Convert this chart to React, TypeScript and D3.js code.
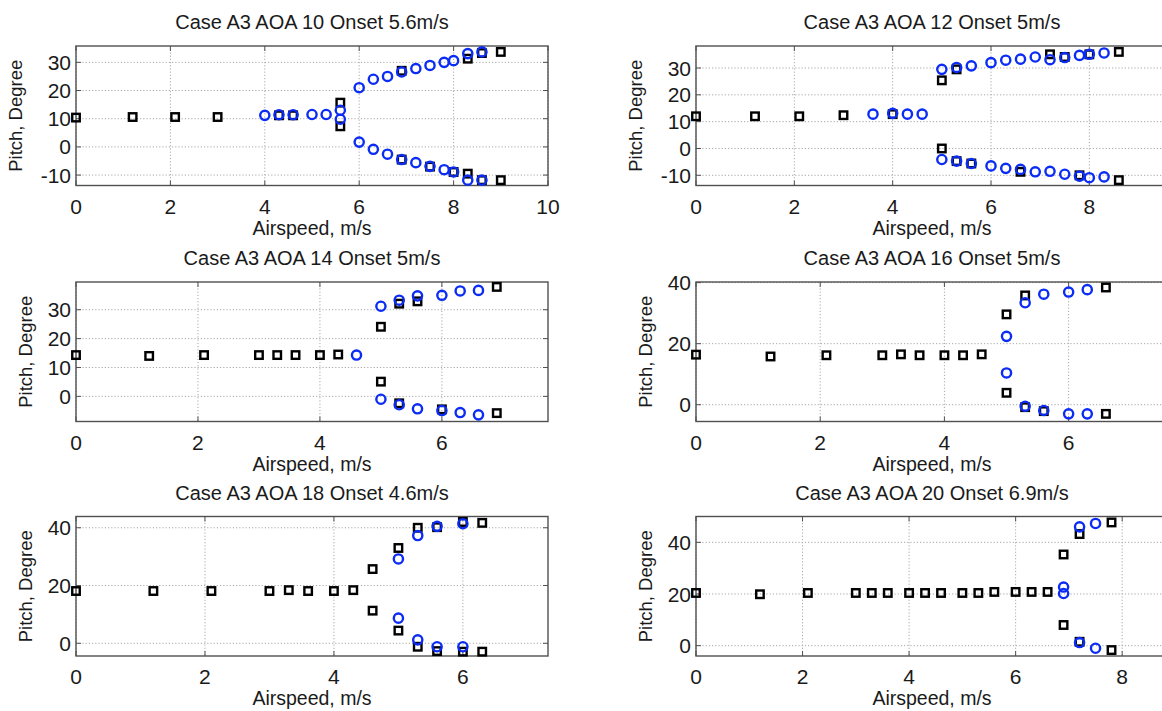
import React from "react";
import * as d3 from "d3";

// Pitch measurements per angle-of-attack case: [airspeed m/s, pitch deg]
const aoa10Squares: [number, number][] = [
  [0, 10.4], [1.2, 10.6], [2.1, 10.6], [3.0, 10.6], [4.3, 11.2], [4.6, 11.2],
  [5.6, 15.7], [5.6, 7.3], [6.9, 27.0], [8.3, 31.3], [8.6, 33.3], [9.0, 33.7],
  [6.9, -4.5], [7.5, -7.0], [8.0, -8.9], [8.3, -9.5], [8.6, -11.8], [9.0, -11.8],
];
const aoa10Circles: [number, number][] = [
  [4.0, 11.2], [4.3, 11.4], [4.6, 11.4], [5.0, 11.5], [5.3, 11.5], [5.6, 13.0], [5.6, 9.8],
  [6.0, 21.0], [6.3, 24.0], [6.6, 25.0], [6.9, 26.6], [7.2, 27.8], [7.5, 28.9], [7.8, 30.0],
  [8.0, 30.6], [8.3, 33.1], [8.6, 33.7],
  [6.0, 1.7], [6.3, -0.85], [6.6, -2.6], [6.9, -4.5], [7.2, -5.6], [7.5, -6.9], [7.8, -8.1],
  [8.0, -8.9], [8.3, -11.8], [8.6, -11.8],
];

const aoa12Squares: [number, number][] = [
  [0, 12.0], [1.2, 12.0], [2.1, 12.0], [3.0, 12.4], [4.0, 12.8],
  [5.0, 25.4], [5.0, 0.0], [5.3, 29.5], [7.2, 35.1], [7.5, 34.1], [8.0, 35.1], [8.6, 36.0],
  [5.3, -4.7], [5.6, -5.6], [6.6, -8.7], [7.8, -10.0], [8.6, -11.8],
];
const aoa12Circles: [number, number][] = [
  [3.6, 12.8], [4.0, 13.1], [4.3, 12.8], [4.6, 12.8],
  [5.0, 29.5], [5.3, 30.2], [5.6, 30.8], [6.0, 32.0], [6.3, 32.9], [6.6, 33.3], [6.9, 34.1],
  [7.2, 33.1], [7.5, 33.9], [7.8, 34.7], [8.0, 35.1], [8.3, 35.6],
  [5.0, -4.1], [5.3, -4.7], [5.6, -5.6], [6.0, -6.5], [6.3, -7.4], [6.6, -7.8], [6.9, -8.7],
  [7.2, -8.5], [7.5, -9.6], [7.8, -10.3], [8.0, -10.9], [8.3, -10.6],
];

const aoa14Squares: [number, number][] = [
  [0, 14.3], [1.2, 14.0], [2.1, 14.3], [3.0, 14.3], [3.3, 14.3], [3.6, 14.3], [4.0, 14.3],
  [4.3, 14.5], [5.0, 24.1], [5.0, 5.1], [5.3, 32.1], [5.6, 32.9], [6.9, 37.9],
  [5.3, -2.4], [6.0, -4.5], [6.9, -5.8],
];
const aoa14Circles: [number, number][] = [
  [4.6, 14.3], [5.0, 31.2], [5.3, 33.3], [5.6, 34.8], [6.0, 35.0], [6.3, 36.5], [6.6, 36.7],
  [5.0, -1.0], [5.3, -2.9], [5.6, -4.3], [6.0, -4.9], [6.3, -5.6], [6.6, -6.4],
];

const aoa16Squares: [number, number][] = [
  [0, 16.4], [1.2, 15.8], [2.1, 16.2], [3.0, 16.2], [3.3, 16.5], [3.6, 16.2], [4.0, 16.2],
  [4.3, 16.2], [4.6, 16.5], [5.0, 29.6], [5.0, 3.9], [5.3, 35.8], [6.6, 38.4],
  [5.3, -0.8], [5.6, -2.1], [6.6, -3.0],
];
const aoa16Circles: [number, number][] = [
  [5.0, 22.4], [5.0, 10.4], [5.3, 33.4], [5.6, 36.2], [6.0, 36.9], [6.3, 37.7],
  [5.3, -0.5], [5.6, -1.9], [6.0, -3.0], [6.3, -3.0],
];

const aoa18Squares: [number, number][] = [
  [0, 18.1], [1.2, 18.1], [2.1, 18.1], [3.0, 18.1], [3.3, 18.4], [3.6, 18.1], [4.0, 18.1],
  [4.3, 18.4], [4.6, 25.7], [4.6, 11.3], [5.0, 33.0], [5.0, 4.4], [5.3, 40.0], [5.3, -1.2],
  [5.6, 40.2], [5.6, -2.7], [6.0, 42.0], [6.0, -2.9], [6.3, 41.7], [6.3, -2.9],
];
const aoa18Circles: [number, number][] = [
  [5.0, 29.2], [5.0, 8.7], [5.3, 37.3], [5.3, 1.2], [5.6, 40.5], [5.6, -1.2], [6.0, 41.4], [6.0, -1.2],
];

const aoa20Squares: [number, number][] = [
  [0, 20.4], [1.2, 19.9], [2.1, 20.4], [3.0, 20.4], [3.3, 20.4], [3.6, 20.4], [4.0, 20.4],
  [4.3, 20.4], [4.6, 20.4], [5.0, 20.4], [5.3, 20.4], [5.6, 20.8], [6.0, 20.8], [6.3, 20.8],
  [6.6, 20.8], [6.9, 35.3], [6.9, 8.0], [7.2, 43.2], [7.2, 1.5], [7.8, 47.7], [7.8, -1.7],
];
const aoa20Circles: [number, number][] = [
  [6.9, 22.7], [6.9, 20.2], [7.2, 46.0], [7.2, 1.2], [7.5, 47.3], [7.5, -1.0],
];

const titles = [
  "Case A3 AOA 10 Onset 5.6m/s",
  "Case A3 AOA 12 Onset 5m/s",
  "Case A3 AOA 14 Onset 5m/s",
  "Case A3 AOA 16 Onset 5m/s",
  "Case A3 AOA 18 Onset 4.6m/s",
  "Case A3 AOA 20 Onset 6.9m/s",
];
const xDomains: [number, number][] = [[0, 10], [0, 9.6], [0, 7.74], [0, 7.6], [0, 7.32], [0, 8.86]];
const yDomains: [number, number][] = [[-13.7, 35.8], [-13.8, 38.2], [-8.7, 39.6], [-5.5, 40.2], [-4.4, 43.9], [-4, 50]];
const xTickValues = [[0, 2, 4, 6, 8, 10], [0, 2, 4, 6, 8], [0, 2, 4, 6], [0, 2, 4, 6], [0, 2, 4, 6], [0, 2, 4, 6, 8]];
const yTickValues = [[-10, 0, 10, 20, 30], [-10, 0, 10, 20, 30], [0, 10, 20, 30], [0, 20, 40], [0, 20, 40], [0, 20, 40]];
const squareSets = [aoa10Squares, aoa12Squares, aoa14Squares, aoa16Squares, aoa18Squares, aoa20Squares];
const circleSets = [aoa10Circles, aoa12Circles, aoa14Circles, aoa16Circles, aoa18Circles, aoa20Circles];

const W = 1162;
const H = 711;
const colLeft = [76, 696];
const rowTop = [46, 282, 516.5];
const plotW = 472;
const plotH = 139.5;
const FONT = "'Liberation Sans', Arial, Helvetica, sans-serif";
const FRAME = "#505050";
const GRID = "#a8a8a8";
const BLUE = "#0b2cf5";
const INK = "#1a1a1a";

function Panel({ i }: { i: number }) {
  const left = colLeft[i % 2];
  const top = rowTop[Math.floor(i / 2)];
  const x = d3.scaleLinear().domain(xDomains[i]).range([left, left + plotW]);
  const y = d3.scaleLinear().domain(yDomains[i]).range([top + plotH, top]);
  const bottom = top + plotH;
  const right = left + plotW;
  const hasNeg = yTickValues[i].some((v) => v < 0);
  const yLabelX = left - (hasNeg ? 54 : 44);
  const sq = 7.5;
  return (
    <g>
      <text x={left + plotW / 2} y={top - 17} textAnchor="middle" fontSize={20} fill={INK} fontFamily={FONT}>
        {titles[i]}
      </text>
      {/* grid */}
      {xTickValues[i].map((t) => (
        <line key={"gx" + t} x1={x(t)} x2={x(t)} y1={top} y2={bottom} stroke={GRID} strokeWidth={1} strokeDasharray="1.2,2" />
      ))}
      {yTickValues[i].map((t) => (
        <line key={"gy" + t} x1={left} x2={right} y1={y(t)} y2={y(t)} stroke={GRID} strokeWidth={1} strokeDasharray="1.2,2" />
      ))}
      {/* ticks */}
      {xTickValues[i].map((t) => (
        <g key={"tx" + t}>
          <line x1={x(t)} x2={x(t)} y1={bottom} y2={bottom - 5} stroke={FRAME} strokeWidth={1} />
          <line x1={x(t)} x2={x(t)} y1={top} y2={top + 5} stroke={FRAME} strokeWidth={1} />
          <text x={x(t)} y={bottom + 28} textAnchor="middle" fontSize={21} fill={INK} fontFamily={FONT}>
            {t}
          </text>
        </g>
      ))}
      {yTickValues[i].map((t) => (
        <g key={"ty" + t}>
          <line x1={left} x2={left + 5} y1={y(t)} y2={y(t)} stroke={FRAME} strokeWidth={1} />
          <line x1={right} x2={right - 5} y1={y(t)} y2={y(t)} stroke={FRAME} strokeWidth={1} />
          <text x={left - 5} y={y(t)} dy="0.36em" textAnchor="end" fontSize={21} fill={INK} fontFamily={FONT}>
            {t}
          </text>
        </g>
      ))}
      <rect x={left} y={top} width={plotW} height={plotH} fill="none" stroke={FRAME} strokeWidth={1.4} />
      {/* markers */}
      {squareSets[i].map(([sx, sy], k) => (
        <rect key={"s" + k} x={x(sx) - sq / 2} y={y(sy) - sq / 2} width={sq} height={sq} fill="none" stroke="#000" strokeWidth={2.4} />
      ))}
      {circleSets[i].map(([cx, cy], k) => (
        <circle key={"c" + k} cx={x(cx)} cy={y(cy)} r={4.6} fill="none" stroke={BLUE} strokeWidth={2.4} />
      ))}
      <text x={left + plotW / 2} y={bottom + 49} textAnchor="middle" fontSize={19.5} fill={INK} fontFamily={FONT}>
        Airspeed, m/s
      </text>
      <text
        transform={`translate(${yLabelX},${top + plotH / 2}) rotate(-90)`}
        textAnchor="middle"
        fontSize={18.5}
        fill={INK}
        fontFamily={FONT}
      >
        Pitch, Degree
      </text>
    </g>
  );
}

export default function App() {
  return (
    <svg
      width={W}
      height={H}
      viewBox={`0 0 ${W} ${H}`}
      style={{ position: "absolute", left: 0, top: 0, background: "#fff", overflow: "hidden" }}
    >
      <rect x={0} y={0} width={W} height={H} fill="#fff" />
      {d3.range(6).map((i) => (
        <Panel key={i} i={i} />
      ))}
    </svg>
  );
}
